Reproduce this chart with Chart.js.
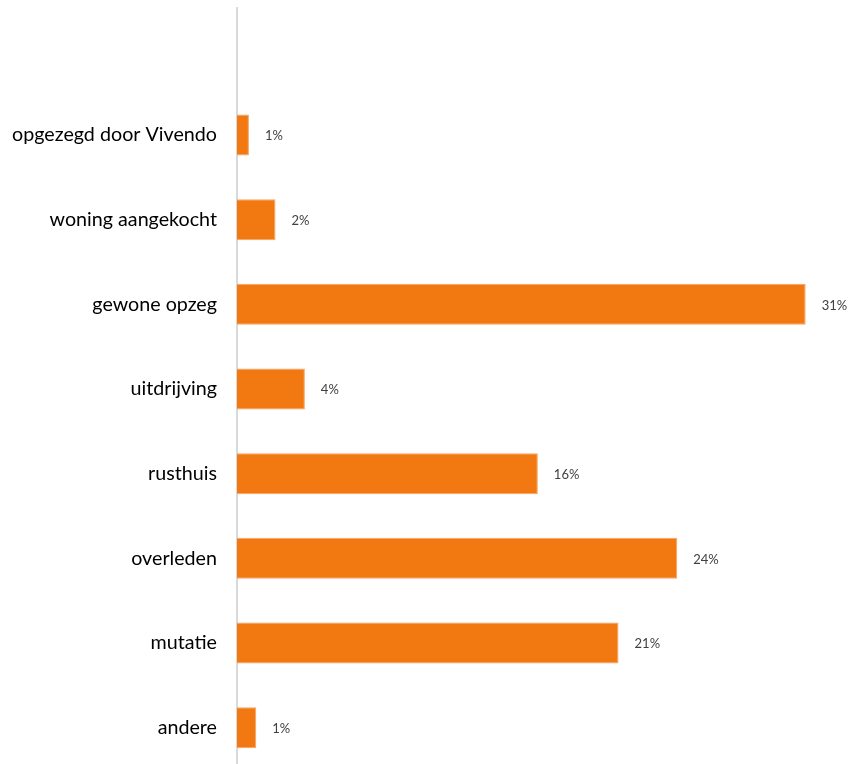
<!DOCTYPE html>
<html>
<head>
<meta charset="utf-8">
<script src="https://cdn.jsdelivr.net/npm/chart.js@4"></script>
<style>
html,body{margin:0;padding:0;background:#fff;overflow:hidden;}
#wrap{width:853px;height:764px;overflow:hidden;}
</style>
</head>
<body>
<div id="wrap"><canvas id="c" width="853" height="770"></canvas></div>
<script>
const categories = ['', 'opgezegd door Vivendo', 'woning aangekocht', 'gewone opzeg', 'uitdrijving', 'rusthuis', 'overleden', 'mutatie', 'andere'];
const shares = [null, 0.65, 2.1, 31, 3.7, 16.4, 24, 20.8, 1.05];
const labelSuffix = '%';

const valueLabels = {
  id: 'valueLabels',
  afterDatasetsDraw(chart) {
    const ctx = chart.ctx;
    const meta = chart.getDatasetMeta(0);
    ctx.save();
    ctx.font = '13px Lato, "Open Sans", sans-serif';
    ctx.fillStyle = '#404040';
    ctx.textAlign = 'left';
    ctx.textBaseline = 'middle';
    meta.data.forEach((bar, i) => {
      const v = shares[i];
      if (v === null || v === undefined) return;
      ctx.fillText(Math.round(v) + labelSuffix, bar.x + 16, bar.y + 1);
    });
    ctx.restore();
  }
};

new Chart(document.getElementById('c'), {
  type: 'bar',
  data: {
    labels: categories,
    datasets: [{
      data: shares,
      backgroundColor: '#F27912',
      borderColor: '#F5A462',
      borderWidth: 1,
      borderSkipped: 'left',
      categoryPercentage: 1,
      barPercentage: 0.485
    }]
  },
  options: {
    indexAxis: 'y',
    responsive: false,
    animation: false,
    layout: { padding: { top: 8, bottom: 0, right: 29, left: 0 } },
    plugins: { legend: { display: false }, tooltip: { enabled: false } },
    scales: {
      x: {
        display: false,
        min: 0,
        max: 32
      },
      y: {
        grid: { display: false, drawTicks: false },
        border: { display: true, color: '#D9D9D9', width: 2 },
        ticks: {
          color: '#000000',
          font: { size: 19.7, family: 'Lato, "Open Sans", sans-serif' },
          padding: 20
        },
        afterFit(scale) { scale.width = 237; scale.paddingTop = 0; scale.paddingBottom = 0; }
      }
    }
  },
  plugins: [valueLabels]
});
</script>
</body>
</html>
